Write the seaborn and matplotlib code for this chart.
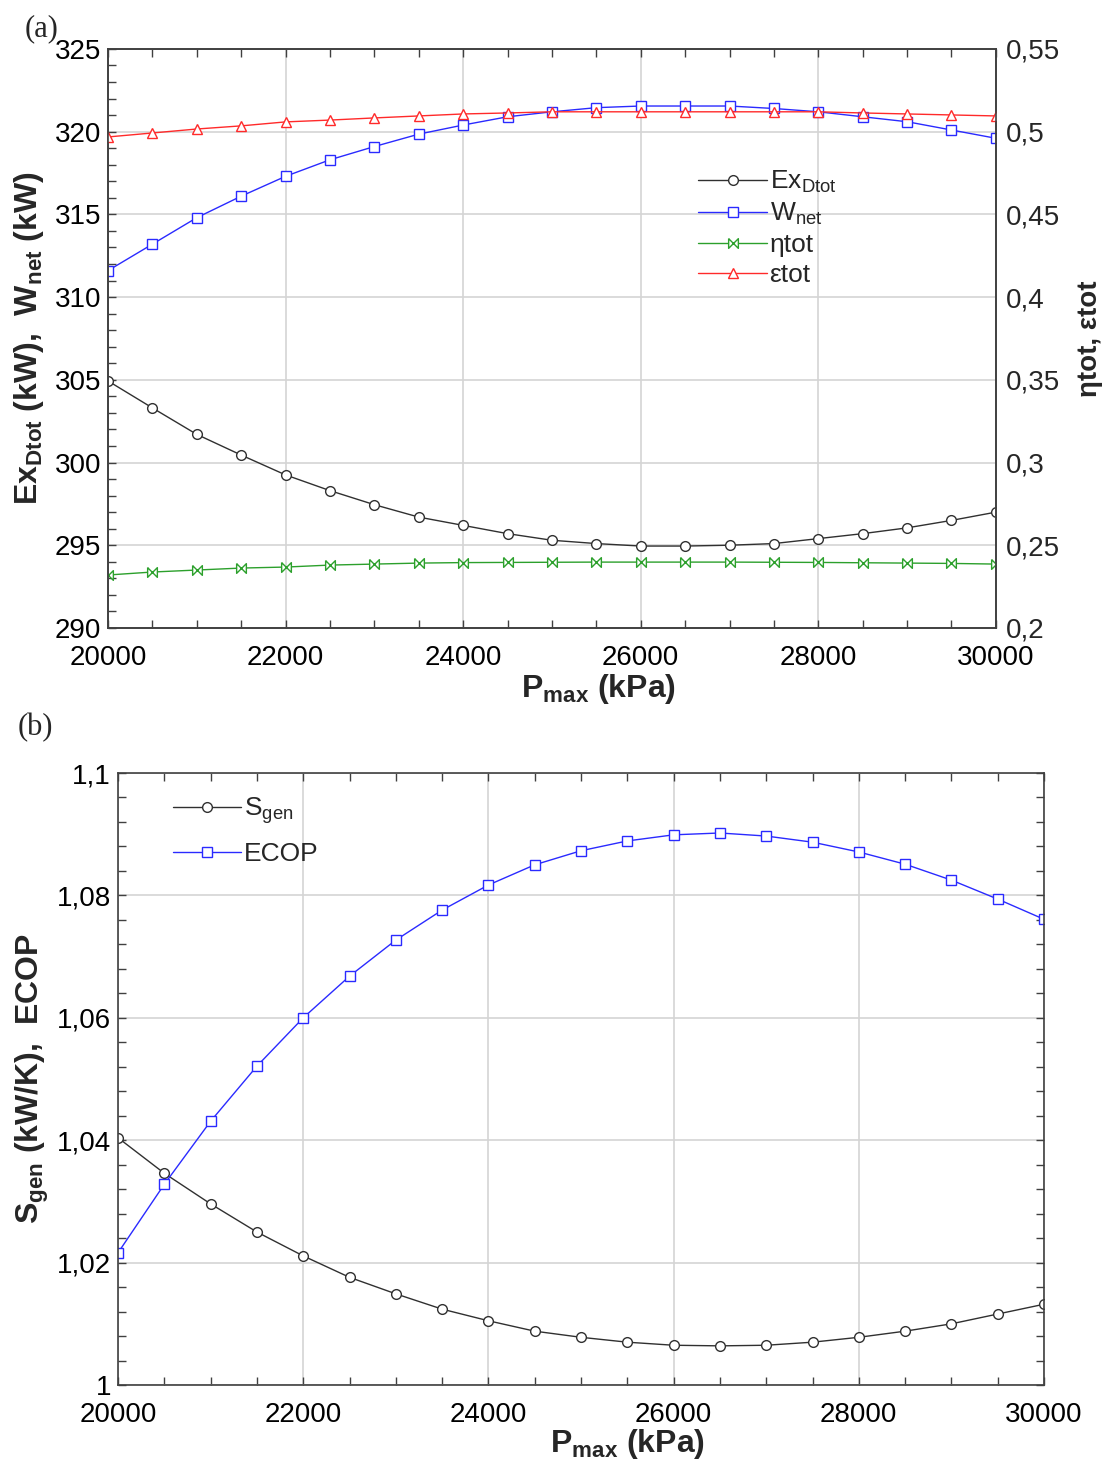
import numpy as np
import pandas as pd
import matplotlib
matplotlib.use("Agg")
import matplotlib.pyplot as plt
import seaborn as sns
from matplotlib.ticker import MultipleLocator, FuncFormatter

# --- data ---
p_max = [20000, 20500, 21000, 21500, 22000, 22500, 23000, 23500, 24000, 24500,
         25000, 25500, 26000, 26500, 27000, 27500, 28000, 28500, 29000, 29500, 30000]

ex_dtot = [304.93, 303.3, 301.7, 300.45, 299.25, 298.3, 297.45, 296.7, 296.2, 295.7,
           295.3, 295.1, 294.95, 294.95, 295.0, 295.1, 295.4, 295.7, 296.05, 296.5, 297.0]
w_net = [311.6, 313.2, 314.8, 316.1, 317.3, 318.3, 319.1, 319.85, 320.4, 320.9,
         321.2, 321.45, 321.55, 321.55, 321.55, 321.4, 321.2, 320.9, 320.6, 320.1, 319.6]
eta_tot = [0.232, 0.2338, 0.235, 0.2362, 0.2368, 0.238, 0.2386, 0.2392, 0.2395, 0.2396,
           0.2397, 0.2398, 0.2398, 0.2398, 0.2398, 0.2397, 0.2396, 0.2394, 0.2392, 0.239, 0.2386]
eps_tot = [0.4968, 0.4992, 0.5016, 0.5035, 0.5059, 0.507, 0.5083, 0.5095, 0.5107, 0.5113,
           0.512, 0.512, 0.512, 0.512, 0.512, 0.512, 0.512, 0.5113, 0.5107, 0.5101, 0.5095]

s_gen = [1.0404, 1.0346, 1.0296, 1.025, 1.0211, 1.0176, 1.0149, 1.0124, 1.0105, 1.0088,
         1.0078, 1.007, 1.0065, 1.0064, 1.0065, 1.007, 1.0078, 1.0088, 1.01, 1.0116, 1.0132]
ecop = [1.0216, 1.0328, 1.0431, 1.0521, 1.06, 1.0668, 1.0727, 1.0776, 1.0817, 1.085,
        1.0873, 1.0889, 1.0899, 1.0902, 1.0897, 1.0887, 1.0871, 1.0851, 1.0825, 1.0794, 1.0761]

df_a = pd.DataFrame({"P": p_max, "Ex": ex_dtot, "W": w_net, "eta": eta_tot, "eps": eps_tot})
df_b = pd.DataFrame({"P": p_max, "S": s_gen, "ECOP": ecop})

# --- style ---
sns.set_style("ticks")
plt.rcParams["font.family"] = ["Liberation Sans", "DejaVu Sans"]
plt.rcParams["mathtext.fontset"] = "custom"
plt.rcParams["mathtext.rm"] = "Liberation Sans"
plt.rcParams["mathtext.it"] = "Liberation Sans"
plt.rcParams["mathtext.bf"] = "Liberation Sans:bold"

TICK_FS = 20
LAB_FS = 23
LEG_FS = 19
SPINE = "#404040"
GRID = "#d4d4d4"

bowtie = [(-1, 1), (1, -1), (1, 1), (-1, -1), (-1, 1)]


def comma_fmt(v, pos):
    return f"{v:g}".replace(".", ",")


def style_axis(ax, right_ticks=True):
    for s in ax.spines.values():
        s.set_color(SPINE)
        s.set_linewidth(1.2)
    ax.tick_params(which="both", direction="in", top=True, right=right_ticks,
                   colors=SPINE, labelcolor="black", labelsize=TICK_FS)
    ax.tick_params(which="major", length=6, width=1)
    ax.tick_params(which="minor", length=6, width=1)
    ax.tick_params(axis="x", pad=12)
    ax.tick_params(axis="y", pad=5)


fig = plt.figure(figsize=(11.09, 14.61), dpi=100)

# --- panel (a) ---
ax = fig.add_axes([0.0974, 0.5702, 0.898 - 0.0974, 0.9665 - 0.5702])
ax2 = ax.twinx()

kw = dict(linewidth=1.0, markersize=7, markerfacecolor="white", markeredgewidth=1.0)
sns.lineplot(data=df_a, x="P", y="Ex", ax=ax, color="#303030", marker="o",
             markeredgecolor="#303030", label=r"Ex$_{\mathrm{Dtot}}$", legend=False, **kw)
sns.lineplot(data=df_a, x="P", y="W", ax=ax, color="#2a2aff", marker="s",
             markeredgecolor="#2a2aff", label=r"W$_{\mathrm{net}}$", legend=False, **kw)
sns.lineplot(data=df_a, x="P", y="eta", ax=ax2, color="#2ca02c", marker=bowtie,
             markeredgecolor="#2ca02c", label="ηtot", legend=False, **kw)
sns.lineplot(data=df_a, x="P", y="eps", ax=ax2, color="#ff2a2a", marker="^",
             markeredgecolor="#ff2a2a", label="εtot", legend=False, **kw)

ax.set_xlim(20000, 30000)
ax.set_ylim(290, 325)
ax2.set_ylim(0.2, 0.55)
ax.xaxis.set_major_locator(MultipleLocator(2000))
ax.xaxis.set_minor_locator(MultipleLocator(500))
ax.yaxis.set_major_locator(MultipleLocator(5))
ax.yaxis.set_minor_locator(MultipleLocator(1))
ax2.yaxis.set_major_locator(MultipleLocator(0.05))
ax2.yaxis.set_major_formatter(FuncFormatter(comma_fmt))
ax.grid(True, which="major", color=GRID, linewidth=1.2)
ax.set_axisbelow(True)

style_axis(ax, right_ticks=False)
ax2.tick_params(axis="y", which="both", length=0, labelsize=TICK_FS, pad=7)
for s in ax2.spines.values():
    s.set_color(SPINE)
    s.set_linewidth(1.2)

ax.set_xlabel(r"P$_{\mathbf{max}}$ (kPa)", fontsize=LAB_FS, fontweight="bold")
ax.xaxis.set_label_coords(0.552, -0.076)
ax.set_ylabel(r"$\mathbf{Ex_{Dtot}}$ (kW),  $\mathbf{W_{net}}$ (kW)", fontsize=LAB_FS,
              fontweight="bold", labelpad=6)
ax2.set_ylabel("ηtot, εtot", fontsize=LAB_FS - 3, fontweight="bold", labelpad=12)

h1, l1 = ax.get_legend_handles_labels()
h2, l2 = ax2.get_legend_handles_labels()
ax2.legend(h1 + h2, l1 + l2, loc="upper left", bbox_to_anchor=(0.65, 0.815),
           frameon=False, fontsize=LEG_FS, handlelength=2.6, labelspacing=0.22,
           handletextpad=0.1, borderpad=0)

fig.text(0.022, 0.975, "(a)", fontsize=22, family=["Liberation Serif", "DejaVu Serif"])

# --- panel (b) ---
bx = fig.add_axes([0.1064, 0.052, 0.9414 - 0.1064, 0.4709 - 0.052])
sns.lineplot(data=df_b, x="P", y="S", ax=bx, color="#303030", marker="o",
             markeredgecolor="#303030", label=r"S$_{\mathrm{gen}}$", **kw)
sns.lineplot(data=df_b, x="P", y="ECOP", ax=bx, color="#2a2aff", marker="s",
             markeredgecolor="#2a2aff", label="ECOP", **kw)

bx.set_xlim(20000, 30000)
bx.set_ylim(1.0, 1.1)
bx.xaxis.set_major_locator(MultipleLocator(2000))
bx.xaxis.set_minor_locator(MultipleLocator(500))
bx.yaxis.set_major_locator(MultipleLocator(0.02))
bx.yaxis.set_minor_locator(MultipleLocator(0.004))
bx.yaxis.set_major_formatter(FuncFormatter(comma_fmt))
bx.grid(True, which="major", color=GRID, linewidth=1.2)
bx.set_axisbelow(True)
style_axis(bx, right_ticks=True)

bx.set_xlabel(r"P$_{\mathbf{max}}$ (kPa)", fontsize=LAB_FS, fontweight="bold")
bx.xaxis.set_label_coords(0.55, -0.068)
bx.set_ylabel(r"$\mathbf{S_{gen}}$ (kW/K),  ECOP", fontsize=LAB_FS, fontweight="bold", labelpad=4)
bx.legend(loc="upper left", bbox_to_anchor=(0.045, 0.985), frameon=False,
          fontsize=LEG_FS, handlelength=2.6, labelspacing=0.6,
          handletextpad=0.1, borderpad=0)

fig.text(0.016, 0.497, "(b)", fontsize=22, family=["Liberation Serif", "DejaVu Serif"])

fig.savefig("out.png", dpi=100)
